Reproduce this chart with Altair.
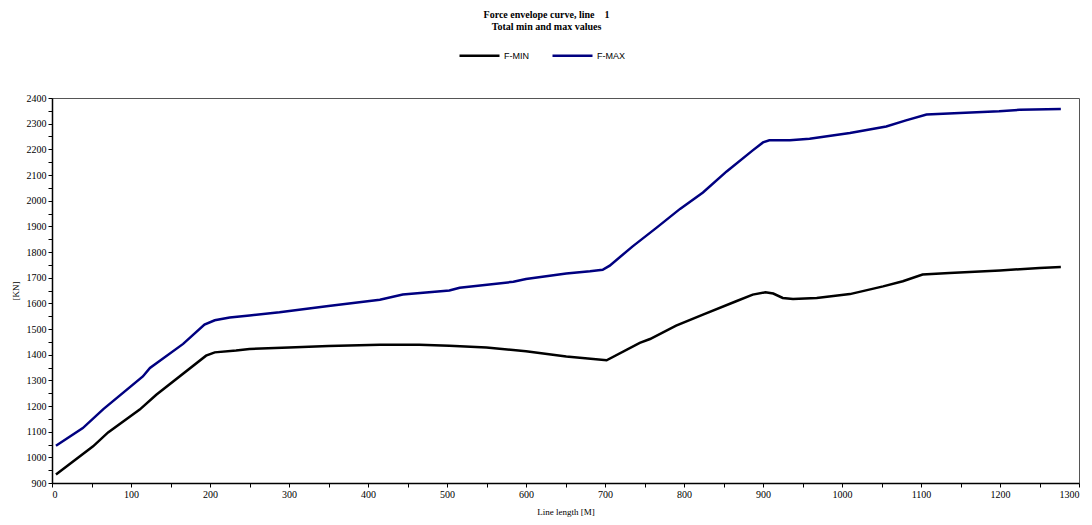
import altair as alt
import pandas as pd

# F-MAX series
x_fmax = [5, 39, 65, 115, 124, 166, 193, 206, 225, 250, 288, 350, 415, 444, 503, 516,
          584, 600, 651, 681, 697, 706, 735, 765, 795, 824, 854, 887, 900, 908, 934,
          959, 1010, 1056, 1081, 1107, 1149, 1199, 1225, 1277]
y_fmax = [1045, 1114, 1188, 1315, 1348, 1442, 1517, 1534, 1545, 1553, 1565, 1590, 1614,
          1634, 1650, 1661, 1684, 1695, 1716, 1725, 1731, 1747, 1822, 1894, 1968, 2032,
          2114, 2196, 2227, 2235, 2235, 2241, 2264, 2289, 2313, 2336, 2342, 2348, 2354, 2357]

# F-MIN series
x_fmin = [5, 52, 71, 111, 132, 195, 206, 233, 250, 300, 350, 415, 465, 503, 550, 600,
          651, 702, 744, 757, 790, 824, 866, 887, 903, 913, 925, 938, 968, 1010, 1052,
          1077, 1102, 1136, 1200, 1250, 1277]
y_fmin = [933, 1043, 1097, 1186, 1244, 1396, 1409, 1416, 1422, 1428, 1434, 1439, 1439,
          1435, 1428, 1413, 1393, 1378, 1446, 1461, 1513, 1556, 1608, 1634, 1643, 1638,
          1621, 1617, 1621, 1636, 1666, 1686, 1712, 1718, 1728, 1738, 1742]

series_names = ["F-MIN", "F-MAX"]
series_colors = ["#000000", "#000080"]

x_ticks = list(range(0, 1301, 50))
y_ticks = list(range(900, 2401, 50))

rows = []
for i, (x, y) in enumerate(zip(x_fmin, y_fmin)):
    rows.append({"series": "F-MIN", "len": x, "force": y, "order": i})
for i, (x, y) in enumerate(zip(x_fmax, y_fmax)):
    rows.append({"series": "F-MAX", "len": x, "force": y, "order": i})
df = pd.DataFrame(rows)

serif = "Liberation Serif"
sans = "Liberation Sans"

chart = alt.Chart(df).mark_line(strokeWidth=2.5).encode(
    x=alt.X("len:Q",
            scale=alt.Scale(domain=[0, 1300], nice=False, zero=False),
            axis=alt.Axis(values=x_ticks,
                          labelExpr="datum.value % 100 === 0 ? datum.label : ''",
                          title="Line length [M]", grid=False, format="d")),
    y=alt.Y("force:Q",
            scale=alt.Scale(domain=[900, 2400], nice=False, zero=False),
            axis=alt.Axis(values=y_ticks,
                          labelExpr="datum.value % 100 === 0 ? datum.label : ''",
                          title="[KN]", grid=False, format="d")),
    color=alt.Color("series:N",
                    scale=alt.Scale(domain=series_names, range=series_colors),
                    legend=alt.Legend(title=None, orient="none", legendX=406, legendY=-64,
                                      direction="horizontal", symbolType="stroke",
                                      symbolSize=1600, symbolStrokeWidth=2.5,
                                      labelFont=sans, labelFontSize=9, labelColor="#000000",
                                      labelOffset=3, columnPadding=18)),
    order="order:Q",
).properties(
    width=1027,
    height=385,
    title=alt.TitleParams(
        text="Force envelope curve, line\u00a0\u00a0\u00a0 1",
        subtitle="Total min and max values",
        font=serif, fontSize=10, fontWeight="bold", color="#000000",
        subtitleFont=serif, subtitleFontSize=10, subtitleFontWeight="bold",
        subtitleColor="#000000", subtitlePadding=2, anchor="middle", offset=2, dx=-19,
    ),
    autosize=alt.AutoSizeParams(type="none"),
    padding={"left": 44, "top": 90, "right": 5, "bottom": 34},
).configure_view(
    stroke="#555555", strokeWidth=1
).configure_axis(
    labelFont=serif, labelFontSize=10, labelColor="#000000",
    titleFont=serif, titleFontSize=9, titleFontWeight="normal", titleColor="#000000",
    domainColor="#000000", domainWidth=1.5, tickColor="#000000", tickSize=4,
    tickWidth=1, labelPadding=2
).configure_axisX(
    titlePadding=8
).configure_axisY(
    titlePadding=6
)

chart.save("out.html", embed_options={"renderer": "svg", "actions": False})
